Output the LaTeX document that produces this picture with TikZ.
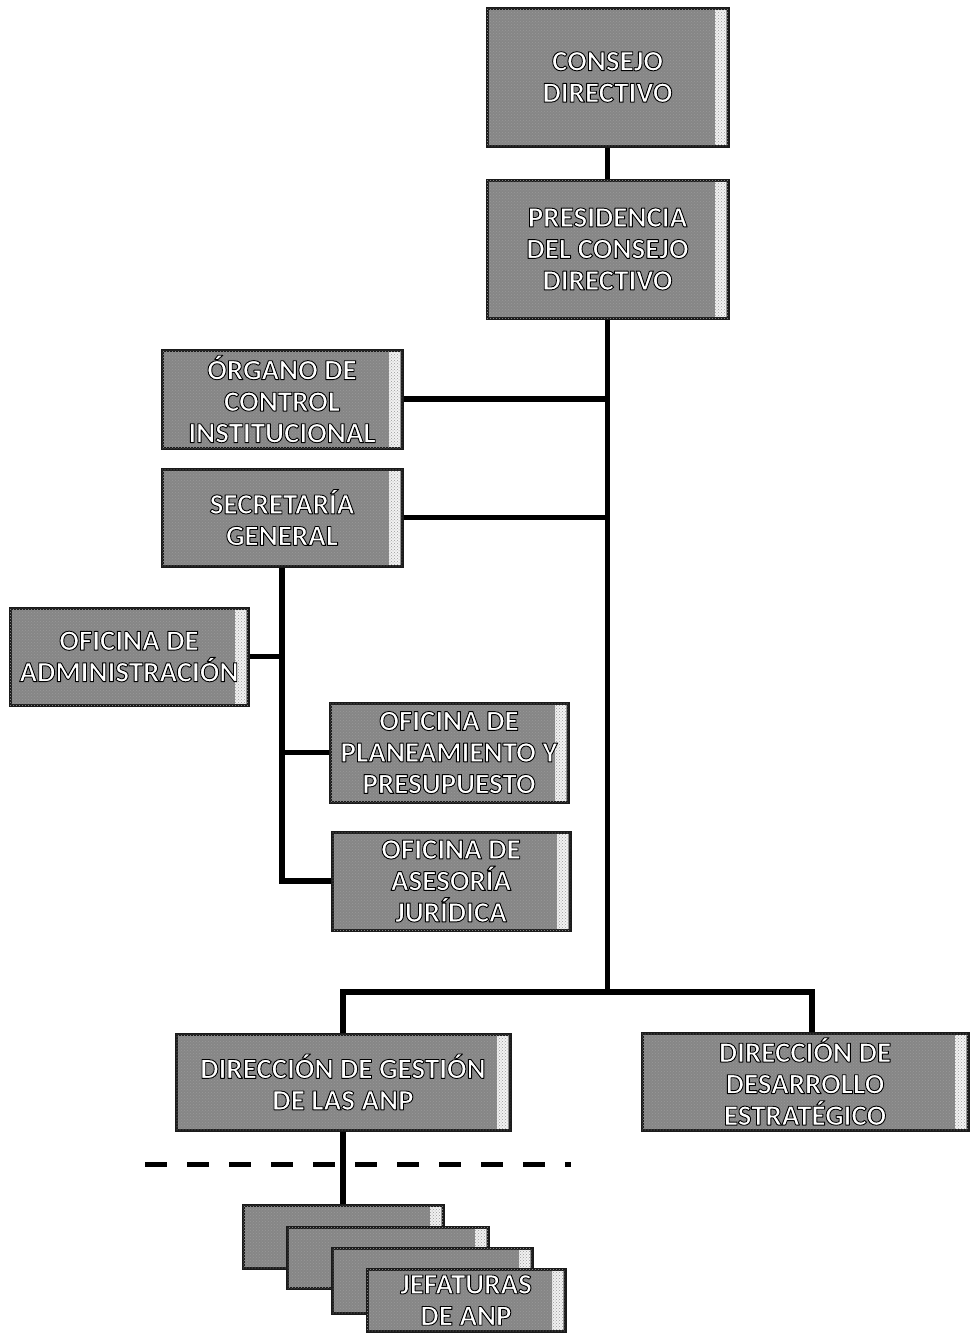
\documentclass[tikz,border=0pt]{standalone}
\usepackage{fontspec}
\setmainfont{Carlito}
\newfontfamily\boxfont{Carlito}[UprightFont={* Bold}, BoldFont={* Bold}]
\usetikzlibrary{calc,patterns}
\definecolor{boxgray}{HTML}{868686}
\definecolor{boxedge}{HTML}{1A1A1A}
\newcommand{\ct}[1]{\special{pdf:literal direct 2 Tr 0.9 w 1 j 0 G}#1\special{pdf:literal direct 0 Tr}}
\tikzset{
  orgbox/.style={draw=boxedge, line width=3pt, fill=boxgray, align=center,
    inner sep=0pt, text=white,
    font=\boxfont\fontsize{29}{31.5}\selectfont,
    postaction={pattern=crosshatch dots, pattern color=black!40},
    path picture={
      \fill[left color=boxgray, right color=white!92!boxgray]
        ([xshift=-13pt]path picture bounding box.north east) rectangle
        ([xshift=-2pt]path picture bounding box.south east);
    }},
  link/.style={line width=5.5pt, draw=black},
  dashline/.style={line width=5pt, draw=black, dash pattern=on 22pt off 20pt}
}
\begin{document}
\begin{tikzpicture}[x=1pt,y=-1pt]
\useasboundingbox (0,0) rectangle (971,1334);
% nodes
\node[orgbox, minimum width=241pt, minimum height=138pt] (consejo) at (607.5,77) {\ct{CONSEJO}\\\ct{DIRECTIVO}};
\node[orgbox, minimum width=241pt, minimum height=138pt] (presid) at (607.5,249) {\ct{PRESIDENCIA}\\\ct{DEL CONSEJO}\\\ct{DIRECTIVO}};
\node[orgbox, minimum width=240pt, minimum height=98pt] (organo) at (282,399) {\ct{ÓRGANO DE}\\\ct{CONTROL}\\\ct{INSTITUCIONAL}};
\node[orgbox, minimum width=240pt, minimum height=97pt] (secret) at (282,517.5) {\ct{SECRETARÍA}\\\ct{GENERAL}};
\node[orgbox, minimum width=238pt, minimum height=97pt] (admin) at (129,656.5) {\ct{OFICINA DE}\\\ct{ADMINISTRACIÓN}};
\node[orgbox, minimum width=238pt, minimum height=99pt] (planea) at (449,752.5) {\ct{OFICINA DE}\\\ct{PLANEAMIENTO Y}\\\ct{PRESUPUESTO}};
\node[orgbox, minimum width=238pt, minimum height=98pt] (asesor) at (451,881) {\ct{OFICINA DE}\\\ct{ASESORÍA}\\\ct{JURÍDICA}};
\node[orgbox, minimum width=334pt, minimum height=96pt] (gestion) at (343,1082) {\ct{DIRECCIÓN DE GESTIÓN}\\\ct{DE LAS ANP}};
\node[orgbox, minimum width=326pt, minimum height=97pt] (desarr) at (805,1081.5) {\ct{DIRECCIÓN DE}\\\ct{DESARROLLO}\\\ct{ESTRATÉGICO}};
\node[orgbox, minimum width=200pt, minimum height=63pt] (jefa) at (343,1236.5) {};
\node[orgbox, minimum width=201pt, minimum height=61pt] (jefb) at (387.5,1257.5) {};
\node[orgbox, minimum width=200pt, minimum height=65pt] (jefc) at (432,1280.5) {};
\node[orgbox, minimum width=198pt, minimum height=62pt] (jefd) at (466,1300) {\ct{JEFATURAS}\\\ct{DE ANP}};
% coordinates
\coordinate (tb) at (607.5,992);
\coordinate (dl1) at (145,1164);
\coordinate (dl2) at (571,1164);
% connectors
\draw[link] (consejo.south) -- (presid.north);
\draw[link] (presid.south) -- (tb);
\draw[link] (organo.east) -- (organo.east -| tb);
\draw[link] (secret.east) -- (secret.east -| tb);
\draw[link] (secret.south) |- (asesor.west);
\draw[link] (admin.east) -- (admin.east -| secret.south);
\draw[link] (planea.west) -- (planea.west -| secret.south);
\draw[link] (gestion.north) |- (tb);
\draw[link] (tb) -| ([xshift=7pt]desarr.north);
\draw[link] (gestion.south) -- (jefa.north);
\draw[dashline] (dl1) -- (dl2);
\end{tikzpicture}
\end{document}
